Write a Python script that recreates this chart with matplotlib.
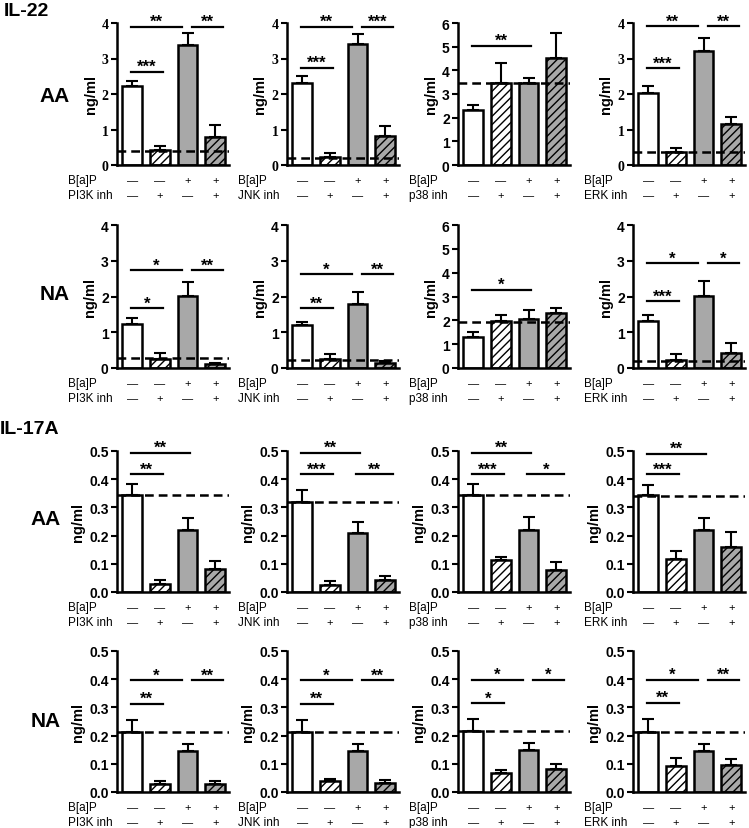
import numpy as np
import matplotlib
matplotlib.use("Agg")
import matplotlib.pyplot as plt
from matplotlib.transforms import blended_transform_factory

plt.rcParams['font.family'] = ['Liberation Sans', 'DejaVu Sans']
plt.rcParams['hatch.linewidth'] = 1.0

# 条件の表
inhibitors = ["PI3K inh", "JNK inh", "p38 inh", "ERK inh"]
bap_row = ["\u2014", "\u2014", "+", "+"]
inh_row = ["\u2014", "+", "\u2014", "+"]

# IL-22 AA
il22_aa_mean = [[2.22, 0.43, 3.39, 0.80], [2.32, 0.23, 3.40, 0.82],
                [2.32, 3.48, 3.45, 4.51], [2.04, 0.36, 3.21, 1.15]]
il22_aa_sem = [[0.14, 0.11, 0.32, 0.33], [0.19, 0.10, 0.30, 0.28],
               [0.22, 0.84, 0.24, 1.08], [0.18, 0.12, 0.37, 0.21]]
il22_aa_dash = [0.40, 0.19, 3.45, 0.38]
il22_aa_sig = [[(0, 1, 2.63, '***'), (0, 2, 3.9, '**'), (2, 3, 3.9, '**')],
               [(0, 1, 2.74, '***'), (0, 2, 3.89, '**'), (2, 3, 3.89, '***')],
               [(0, 2, 5.03, '**')],
               [(0, 1, 2.72, '***'), (0, 2, 3.91, '**'), (2, 3, 3.91, '**')]]

# IL-22 NA
il22_na_mean = [[1.22, 0.26, 2.01, 0.10], [1.19, 0.24, 1.79, 0.15],
                [1.31, 1.96, 2.06, 2.31], [1.32, 0.22, 2.02, 0.43]]
il22_na_sem = [[0.17, 0.17, 0.40, 0.05], [0.09, 0.15, 0.33, 0.05],
               [0.19, 0.28, 0.37, 0.22], [0.17, 0.16, 0.41, 0.28]]
il22_na_dash = [0.29, 0.22, 1.93, 0.19]
il22_na_sig = [[(0, 1, 1.67, '*'), (0, 2, 2.74, '*'), (2, 3, 2.74, '**')],
               [(0, 1, 1.67, '**'), (0, 2, 2.63, '*'), (2, 3, 2.63, '**')],
               [(0, 2, 3.29, '*')],
               [(0, 1, 1.87, '***'), (0, 2, 2.93, '*'), (2, 3, 2.93, '*')]]

# IL-17A AA
il17_aa_mean = [[0.345, 0.029, 0.220, 0.082], [0.318, 0.026, 0.208, 0.041],
                [0.345, 0.114, 0.221, 0.078], [0.345, 0.117, 0.219, 0.160]]
il17_aa_sem = [[0.037, 0.015, 0.042, 0.029], [0.043, 0.012, 0.041, 0.014],
               [0.038, 0.011, 0.045, 0.027], [0.035, 0.029, 0.045, 0.053]]
il17_aa_dash = [0.345, 0.318, 0.345, 0.340]
il17_aa_sig = [[(0, 1, 0.418, '**'), (0, 2, 0.494, '**')],
               [(0, 1, 0.418, '***'), (0, 2, 0.494, '**'), (2, 3, 0.418, '**')],
               [(0, 1, 0.418, '***'), (0, 2, 0.494, '**'), (2, 3, 0.418, '*')],
               [(0, 1, 0.418, '***'), (0, 2, 0.49, '**')]]

# IL-17A NA
il17_na_mean = [[0.214, 0.029, 0.147, 0.029], [0.214, 0.039, 0.147, 0.032],
                [0.215, 0.068, 0.149, 0.082], [0.213, 0.093, 0.146, 0.094]]
il17_na_sem = [[0.043, 0.010, 0.022, 0.010], [0.043, 0.008, 0.023, 0.009],
               [0.045, 0.009, 0.023, 0.018], [0.045, 0.029, 0.024, 0.023]]
il17_na_dash = [0.214, 0.214, 0.215, 0.213]
il17_na_sig = [[(0, 1, 0.313, '**'), (0, 2, 0.397, '*'), (2, 3, 0.397, '**')],
               [(0, 1, 0.313, '**'), (0, 2, 0.397, '*'), (2, 3, 0.397, '**')],
               [(0, 1, 0.315, '*'), (0, 2, 0.398, '*'), (2, 3, 0.398, '*')],
               [(0, 1, 0.316, '**'), (0, 2, 0.398, '*'), (2, 3, 0.398, '**')]]

rows = [
    (il22_aa_mean, il22_aa_sem, il22_aa_dash, il22_aa_sig),
    (il22_na_mean, il22_na_sem, il22_na_dash, il22_na_sig),
    (il17_aa_mean, il17_aa_sem, il17_aa_dash, il17_aa_sig),
    (il17_na_mean, il17_na_sem, il17_na_dash, il17_na_sig),
]
row_names = ["AA", "NA", "AA", "NA"]

W, H = 749, 829
fig = plt.figure(figsize=(W / 100, H / 100), dpi=100)

col_left = [117, 287, 458, 633]
row_top = [24, 226, 452, 652]
row_bot = [166, 369, 593, 793]
ax_w = 112
fills = ['white', 'white', '#a8a8a8', '#a8a8a8']
hatches = ['', '////', '', '////']
x = np.arange(4)

for r, (means, sems, dashes, sigs) in enumerate(rows):
    h = row_bot[r] - row_top[r]
    for c in range(4):
        ax = fig.add_axes([col_left[c] / W, 1 - row_bot[r] / H, ax_w / W, h / H])
        if r < 2:
            ymax = 6 if c == 2 else 4
            yt = np.arange(0, ymax + 1, 1)
            ylabels = [str(v) for v in yt]
        else:
            ymax = 0.5
            yt = np.arange(0, 0.51, 0.1)
            ylabels = ["%.1f" % v for v in yt]

        bars = ax.bar(x, means[c], width=0.72, color=fills, edgecolor='black',
                      linewidth=1.8, zorder=2)
        for b, hh in zip(bars, hatches):
            b.set_hatch(hh)
        ax.errorbar(x, means[c], yerr=[np.zeros(4), sems[c]], fmt='none',
                    ecolor='black', elinewidth=1.5, capsize=4, capthick=1.5,
                    zorder=1)
        ax.axhline(dashes[c], color='black', lw=1.8, ls=(0, (3.5, 2)), zorder=3)

        # 有意差のバー
        for i, j, y, s in sigs[c]:
            x0 = i - 0.05
            x1 = j + 0.1
            if any(k[0] == j and abs(k[2] - y) < 1e-9 for k in sigs[c]):
                x1 -= 0.3
            if any(k[1] == i and abs(k[2] - y) < 1e-9 for k in sigs[c]):
                x0 += 0.2
            if j == 3:
                x1 += 0.2
            ax.plot([x0, x1], [y, y], color='black', lw=1.6, clip_on=False)
            ax.annotate(s, ((x0 + x1) / 2, y), xytext=(0, 0.5),
                        textcoords='offset points', ha='center', va='baseline',
                        fontsize=12, fontweight='bold', annotation_clip=False)

        ax.set_xlim(-0.55, 3.5)
        ax.set_ylim(0, ymax)
        ax.set_xticks([])
        ax.set_yticks(yt)
        family = 'Liberation Serif' if (r == 0 and c != 2) else 'Liberation Sans'
        ax.set_yticklabels(ylabels, fontsize=10, fontweight='bold', family=family)
        ax.tick_params(axis='y', direction='out', length=4, width=1.5, pad=2)
        for sp in ['top', 'right']:
            ax.spines[sp].set_visible(False)
        for sp in ['left', 'bottom']:
            ax.spines[sp].set_linewidth(1.8)
        ax.set_ylabel('ng/ml', fontsize=10.5, fontweight='bold', labelpad=3)

        # 条件の表
        tr = blended_transform_factory(ax.transData, ax.transAxes)
        y1 = -15 / h
        y2 = -30 / h
        ax.text(-49 / ax_w, y1, 'B[a]P', transform=ax.transAxes, fontsize=8.5,
                ha='left', va='center')
        ax.text(-49 / ax_w, y2, inhibitors[c], transform=ax.transAxes,
                fontsize=8.5, ha='left', va='center')
        for k in range(4):
            ax.text(x[k], y1, bap_row[k], transform=tr, fontsize=8,
                    ha='center', va='center')
            ax.text(x[k], y2, inh_row[k], transform=tr, fontsize=8,
                    ha='center', va='center')

    # 行ラベル
    xc = 55 if r < 2 else 46
    yc = [97, 295, 520, 722][r]
    fig.text(xc / W, 1 - yc / H, row_names[r], fontsize=15, fontweight='bold',
             ha='center', va='center')

fig.text(4 / W, 1 - 12 / H, 'IL-22', fontsize=14, fontweight='bold',
         ha='left', va='center')
fig.text(0 / W, 1 - 429 / H, 'IL-17A', fontsize=14, fontweight='bold',
         ha='left', va='center')

fig.savefig('out.png', dpi=100)
